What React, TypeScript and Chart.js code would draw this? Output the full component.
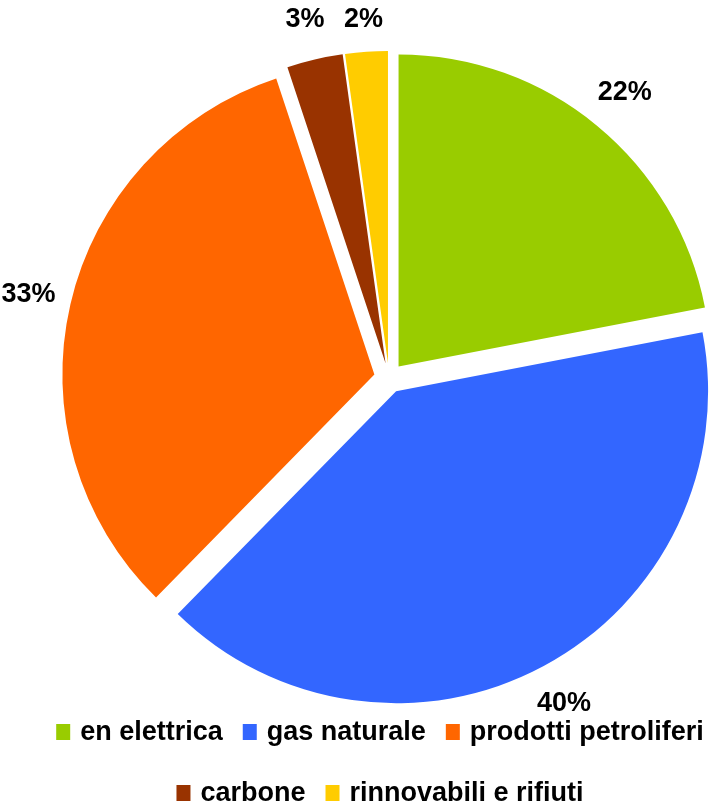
import React, { useEffect, useRef } from "react";
import { Chart, registerables } from "chart.js";

Chart.register(...registerables);

// ---- data ----
const categories = [
  "en elettrica",
  "gas naturale",
  "prodotti petroliferi",
  "carbone",
  "rinnovabili e rifiuti",
];
const shares = [22, 40.4, 32.6, 2.9, 2.2];
const colors = ["#99CC00", "#3366FF", "#FF6600", "#993300", "#FFCC00"];
const legendRows = [
  [0, 1, 2],
  [3, 4],
];

// ---- style / layout constants ----
const FONT = '"Liberation Sans", Arial, Helvetica, sans-serif';
const EXPLODE = 15;
const RADIUS = 312;
const LABEL_GAP = 58;
const LABEL_MIN_Y = 20;
const FONT_SIZE = 27;
const LEGEND_CENTER_X = 380;
const LEGEND_BASELINES = [740, 801];
const LEGEND_BOX_W = 14;
const LEGEND_BOX_H = 16;
const LEGEND_TEXT_GAP = 10;
const LEGEND_ITEM_GAP = 20;

const explodePlugin = {
  id: "explodeSlices",
  beforeDatasetsDraw(chart: any) {
    const meta = chart.getDatasetMeta(0);
    meta.data.forEach((arc: any) => {
      if (arc.__exploded) return;
      const orig = arc.draw.bind(arc);
      arc.draw = (ctx: CanvasRenderingContext2D, area: any) => {
        const mid = (arc.startAngle + arc.endAngle) / 2;
        ctx.save();
        ctx.translate(Math.cos(mid) * EXPLODE, Math.sin(mid) * EXPLODE);
        orig(ctx, area);
        ctx.restore();
      };
      arc.__exploded = true;
    });
  },
};

const labelPlugin = {
  id: "pctLabels",
  afterDatasetsDraw(chart: any) {
    const ctx: CanvasRenderingContext2D = chart.ctx;
    const meta = chart.getDatasetMeta(0);
    const values: number[] = chart.data.datasets[0].data;
    const total = values.reduce((a, b) => a + b, 0);
    ctx.save();
    ctx.font = `bold ${FONT_SIZE}px ${FONT}`;
    ctx.fillStyle = "#000000";
    ctx.textAlign = "center";
    ctx.textBaseline = "middle";
    meta.data.forEach((arc: any, i: number) => {
      const { x, y, startAngle, endAngle, outerRadius } = arc.getProps(
        ["x", "y", "startAngle", "endAngle", "outerRadius"],
        true
      );
      const mid = (startAngle + endAngle) / 2;
      const d = outerRadius + LABEL_GAP;
      const lx = x + Math.cos(mid) * d;
      const ly = Math.max(y + Math.sin(mid) * d, LABEL_MIN_Y);
      ctx.fillText(Math.round((values[i] / total) * 100) + "%", lx, ly);
    });
    ctx.restore();
  },
};

const legendPlugin = {
  id: "customLegend",
  afterDraw(chart: any) {
    const ctx: CanvasRenderingContext2D = chart.ctx;
    const labels: string[] = chart.data.labels;
    const bg: string[] = chart.data.datasets[0].backgroundColor;
    ctx.save();
    ctx.font = `bold ${FONT_SIZE}px ${FONT}`;
    ctx.textAlign = "left";
    ctx.textBaseline = "alphabetic";
    legendRows.forEach((row, r) => {
      const widths = row.map(
        (i) => LEGEND_BOX_W + LEGEND_TEXT_GAP + ctx.measureText(labels[i]).width
      );
      const total =
        widths.reduce((a, b) => a + b, 0) + LEGEND_ITEM_GAP * (row.length - 1);
      let x = LEGEND_CENTER_X - total / 2;
      const base = LEGEND_BASELINES[r];
      row.forEach((i, k) => {
        ctx.fillStyle = bg[i];
        ctx.fillRect(x, base - LEGEND_BOX_H, LEGEND_BOX_W, LEGEND_BOX_H);
        ctx.fillStyle = "#000000";
        ctx.fillText(labels[i], x + LEGEND_BOX_W + LEGEND_TEXT_GAP, base);
        x += widths[k] + LEGEND_ITEM_GAP;
      });
    });
    ctx.restore();
  },
};

export default function App() {
  const ref = useRef<HTMLCanvasElement>(null);
  useEffect(() => {
    const chart = new Chart(ref.current as HTMLCanvasElement, {
      type: "pie",
      data: {
        labels: categories,
        datasets: [
          {
            data: shares,
            backgroundColor: colors,
            borderWidth: 0,
          },
        ],
      },
      options: {
        responsive: false,
        animation: false,
        radius: RADIUS,
        events: [],
        layout: { padding: { left: 56, right: 0, top: 0, bottom: 52 } },
        plugins: {
          legend: { display: false },
          tooltip: { enabled: false },
          title: { display: false },
        },
      } as any,
      plugins: [explodePlugin, labelPlugin, legendPlugin],
    });
    return () => chart.destroy();
  }, []);
  return (
    <div
      style={{
        position: "absolute",
        left: 0,
        top: 0,
        width: 722,
        height: 808,
        overflow: "hidden",
        background: "#ffffff",
      }}
    >
      <canvas ref={ref} width={722} height={808} style={{ display: "block" }} />
    </div>
  );
}
